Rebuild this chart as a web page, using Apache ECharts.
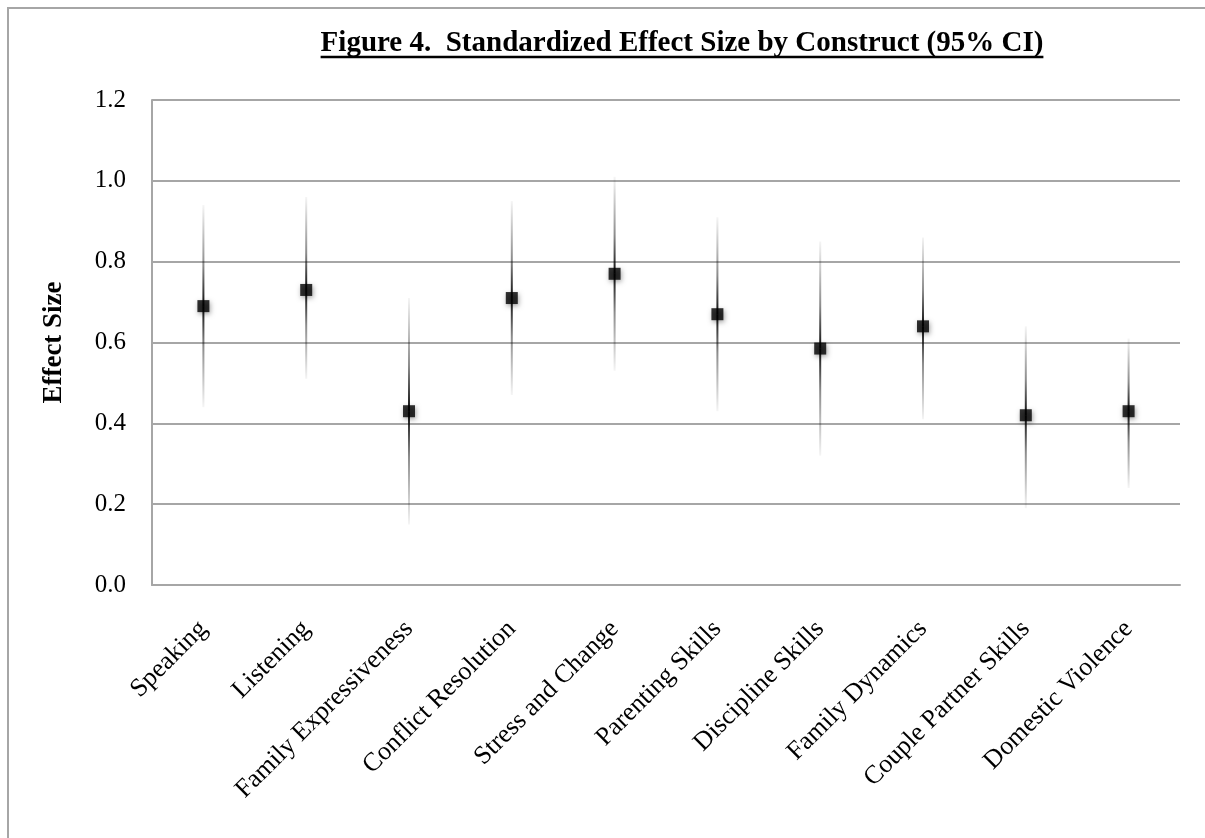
<!DOCTYPE html>
<html>
<head>
<meta charset="utf-8">
<script src="https://cdn.jsdelivr.net/npm/echarts@6/dist/echarts.min.js"></script>
<style>
  html, body { margin: 0; padding: 0; background: #fff; }
  #chart { width: 1205px; height: 838px; }
</style>
</head>
<body>
<div id="chart"></div>
<script>
// Constructs and their standardized effect sizes with 95% confidence limits
const constructs = ['Speaking', 'Listening', 'Family Expressiveness', 'Conflict Resolution',
  'Stress and Change', 'Parenting Skills', 'Discipline Skills', 'Family Dynamics',
  'Couple Partner Skills', 'Domestic Violence'];
const effectSize = [0.69, 0.73, 0.43, 0.71, 0.77, 0.67, 0.585, 0.64, 0.42, 0.43];
const ciLower    = [0.44, 0.51, 0.15, 0.47, 0.53, 0.43, 0.32, 0.41, 0.19, 0.24];
const ciUpper    = [0.94, 0.96, 0.71, 0.95, 1.01, 0.91, 0.85, 0.86, 0.64, 0.61];
const yTicks = [0, 0.2, 0.4, 0.6, 0.8, 1.0, 1.2];

const serif = '"Liberation Serif", "DejaVu Serif", serif';
const titleText = 'Figure 4.  Standardized Effect Size by Construct (95% CI)';
const titleFont = 'bold 29px ' + serif;

const chart = echarts.init(document.getElementById('chart'));

// measure the title so it can be underlined
const ctx = document.createElement('canvas').getContext('2d');
ctx.font = titleFont;
const titleW = ctx.measureText(titleText).width;
const titleCx = 682;

const ciData = constructs.map((c, i) => [i, ciLower[i], ciUpper[i], effectSize[i]]);

function fadeGradient(toDark) {
  // opacity rises toward the point estimate
  const a = 'rgba(0,0,0,0.04)', b = 'rgba(0,0,0,0.95)';
  return {
    type: 'linear', x: 0, y: 0, x2: 0, y2: 1,
    colorStops: toDark
      ? [{ offset: 0, color: a }, { offset: 0.6, color: 'rgba(0,0,0,0.45)' }, { offset: 1, color: b }]
      : [{ offset: 0, color: b }, { offset: 0.4, color: 'rgba(0,0,0,0.45)' }, { offset: 1, color: a }]
  };
}

const option = {
  backgroundColor: '#fff',
  animation: false,
  grid: { left: 152, right: 25, top: 100, bottom: 253, containLabel: false },
  graphic: [
    { type: 'rect', silent: true, z: -1,
      shape: { x: 8, y: 8, width: 1260, height: 900 },
      style: { fill: 'none', stroke: '#a6a6a6', lineWidth: 2 } },
    { type: 'text', left: titleCx - titleW / 2, top: 29,
      style: { text: titleText, font: titleFont, fill: '#000' } },
    { type: 'line', silent: true,
      shape: { x1: titleCx - titleW / 2, y1: 57, x2: titleCx + titleW / 2, y2: 57 },
      style: { stroke: '#000', lineWidth: 2.5 } }
  ],
  xAxis: {
    type: 'category',
    data: constructs,
    boundaryGap: true,
    axisLine: { lineStyle: { color: '#a6a6a6', width: 2 } },
    axisTick: { show: false },
    axisLabel: {
      interval: 0, rotate: 45, margin: 40,
      fontFamily: serif, fontSize: 26, color: '#000'
    },
    splitLine: { show: false }
  },
  yAxis: {
    type: 'value',
    min: 0, max: 1.2, interval: 0.2,
    name: 'Effect Size',
    nameLocation: 'middle',
    nameGap: 84,
    nameTextStyle: { fontFamily: serif, fontSize: 27, fontWeight: 'bold', color: '#000' },
    axisLine: { show: true, lineStyle: { color: '#a6a6a6', width: 2 } },
    axisTick: { show: false },
    axisLabel: {
      margin: 26, fontFamily: serif, fontSize: 25, color: '#000',
      formatter: v => v.toFixed(1)
    },
    splitLine: { show: true, lineStyle: { color: '#a6a6a6', width: 2 } }
  },
  series: [
    {
      type: 'custom',
      name: '95% CI',
      data: ciData,
      encode: { x: 0, y: [1, 2] },
      z: 3,
      renderItem: function (params, api) {
        const x = api.coord([api.value(0), 0])[0];
        const lo = api.coord([api.value(0), api.value(1)])[1];
        const hi = api.coord([api.value(0), api.value(2)])[1];
        const mid = api.coord([api.value(0), api.value(3)])[1];
        return {
          type: 'group',
          children: [
            { type: 'rect', shape: { x: x - 1, y: hi, width: 2, height: mid - hi },
              style: { fill: fadeGradient(true) } },
            { type: 'rect', shape: { x: x - 1, y: mid, width: 2, height: lo - mid },
              style: { fill: fadeGradient(false) } }
          ]
        };
      }
    },
    {
      type: 'scatter',
      name: 'Effect Size',
      data: effectSize,
      symbol: 'rect',
      symbolSize: 12,
      z: 4,
      itemStyle: {
        color: '#000',
        shadowBlur: 5, shadowColor: 'rgba(0,0,0,0.45)',
        shadowOffsetX: 1, shadowOffsetY: 2
      }
    }
  ]
};

chart.setOption(option);
</script>
</body>
</html>
